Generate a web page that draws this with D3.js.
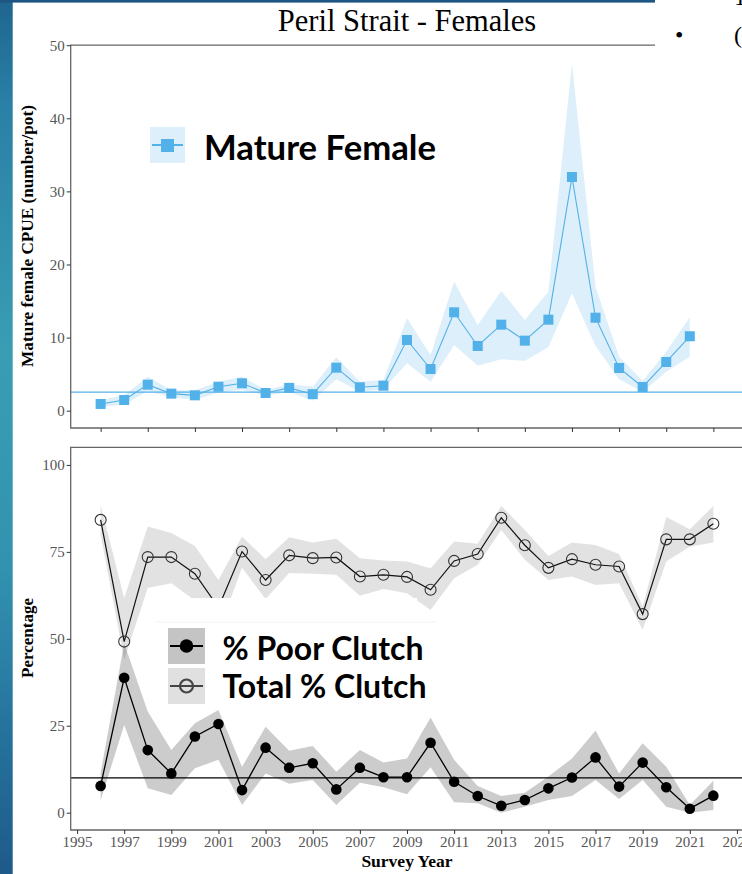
<!DOCTYPE html>
<html><head><meta charset="utf-8">
<script src="https://cdn.jsdelivr.net/npm/d3@7"></script>
<style>html,body{margin:0;padding:0;background:#fff;overflow:hidden}</style>
</head><body><svg id="c" width="742" height="874" xmlns="http://www.w3.org/2000/svg"></svg>
<script>
// ---------- data ----------
const yearsTop = [1996,1997,1998,1999,2000,2001,2002,2003,2004,2005,2006,2007,2008,2009,2010,2011,2012,2013,2014,2015,2016,2017,2018,2019,2020,2021];
const cpue   = [0.92,1.46,3.56,2.33,2.1,3.28,3.75,2.42,3.12,2.26,5.88,3.2,3.42,9.67,5.7,13.46,8.85,11.77,9.58,12.45,31.97,12.72,5.84,3.24,6.66,10.18];
const cpueHi = [1.46,2.1,4.65,2.8,2.8,3.97,4.65,2.8,3.65,3.28,7.3,3.97,4.2,12.64,7.6,17.65,11.72,16.37,12.4,16.28,47.5,16.96,7.39,4.1,8.07,12.78];
const cpueLo = [0.55,0.8,2.7,1.8,1.5,2.46,2.9,2.0,2.6,1.37,4.3,2.6,2.93,6.48,3.97,8.99,6.16,7.03,6.84,8.67,16.06,8.85,4.3,2.6,5.34,7.39];
const cpueRef = 2.55;

const yearsBot = [1996,1997,1998,1999,2000,2001,2002,2003,2004,2005,2006,2007,2008,2009,2010,2011,2012,2013,2014,2015,2016,2017,2018,2019,2020,2021,2022];
const totalClutch = [84.2,49.2,73.5,73.5,68.7,59,75.1,66.9,74.0,73.2,73.4,67.9,68.4,67.8,64.1,72.4,74.4,84.8,76.9,70.4,72.9,71.3,70.8,57.1,78.6,78.6,83.1];
const totalHi = [88.5,61.7,82.3,80.4,76.7,66.9,79.4,72.9,79.2,77.7,78.8,73.2,72.5,72.2,70.3,78.0,77.3,88.2,81.3,73.8,77.7,77.0,74.4,59.3,85.0,81.5,88.2];
const totalLo = [80,44,64.6,66.0,61,52,70.4,61.4,68.9,68.7,68.4,62.4,64.3,63.1,58.3,67.4,71.3,81.3,72.7,66.9,67.9,65.5,66.0,52.6,72.2,76.5,77.7];
const poorClutch = [7.7,38.8,18.0,11.3,21.9,25.5,6.5,18.7,12.9,14.2,6.7,12.9,10.2,10.2,20.1,8.9,4.8,2.0,3.65,7.0,10.1,15.9,7.5,14.4,7.3,1.15,4.9];
const poorHi = [11.5,48.7,29.1,18.0,25.7,29.5,13.2,24.7,17.8,19.2,11.8,18.0,14.4,15.6,27.4,15.2,7.7,4.8,5.75,10.4,15.6,23.6,11.3,20.0,13.2,2.2,9.2];
const poorLo = [3.6,25.2,7.0,5.1,12.8,15.2,2.2,11.3,8.3,9.4,2.2,8.6,7.3,5.3,13.1,3.0,2.7,0,1.7,3.65,4.8,9.4,3.9,9.4,1.7,0,0.8];
const poorRef = 10;

const topTicksY = [0,10,20,30,40,50];
const topTicksX = [1996,1998,2000,2002,2004,2006,2008,2010,2012,2014,2016,2018,2020,2022];
const botTicksY = [0,25,50,75,100];
const botTicksX = [1995,1997,1999,2001,2003,2005,2007,2009,2011,2013,2015,2017,2019,2021,2023];

const titleText = "Peril Strait - Females";
const yTitleTop = "Mature female CPUE (number/pot)";
const yTitleBot = "Percentage";
const xTitle = "Survey Year";
const legTop = ["Mature Female"];
const legBot = ["% Poor Clutch", "Total % Clutch"];

// ---------- setup ----------
const svg = d3.select("#c");
const BLUE = "#52b1e8";
const serif = "'Liberation Serif','Times New Roman',serif";
const sans = "Lato,'Open Sans',sans-serif";

const x = d3.scaleLinear().domain([1994.73, 2024]).range([70.7, 760.5]);
const yT = d3.scaleLinear().domain([-2.37, 50]).range([428, 45.2]);
const yB = d3.scaleLinear().domain([-4.98, 105.07]).range([830, 447.3]);

svg.append("rect").attr("width",742).attr("height",874).attr("fill","#fff");

// ---------- top panel ----------
const gT = svg.append("g");
const topData = yearsTop.map((yr,i)=>({yr, v:cpue[i], hi:cpueHi[i], lo:cpueLo[i]}));
gT.append("path").datum(topData)
  .attr("d", d3.area().x(d=>x(d.yr)).y0(d=>yT(d.lo)).y1(d=>yT(d.hi)))
  .attr("fill", BLUE).attr("fill-opacity", 0.2);
gT.append("line").attr("x1",x.range()[0]).attr("x2",x.range()[1])
  .attr("y1",yT(cpueRef)).attr("y2",yT(cpueRef)).attr("stroke",BLUE).attr("stroke-width",1.3);
gT.append("path").datum(topData)
  .attr("d", d3.line().x(d=>x(d.yr)).y(d=>yT(d.v)))
  .attr("fill","none").attr("stroke",BLUE).attr("stroke-width",1.1);
gT.selectAll("rect.sq").data(topData).join("rect").attr("class","sq")
  .attr("x",d=>x(d.yr)-5).attr("y",d=>yT(d.v)-5).attr("width",10).attr("height",10)
  .attr("fill",BLUE);

const frameCol = "#666";
gT.append("path").attr("d",`M${x.range()[1]},${yT.range()[1]}H${x.range()[0]}V${yT.range()[0]}H${x.range()[1]}`)
  .attr("fill","none").attr("stroke",frameCol).attr("stroke-width",1.3);

function styleAxis(g){
  g.select(".domain").remove();
  g.selectAll(".tick line").attr("stroke","#333").attr("stroke-width",1);
  g.selectAll(".tick text").attr("fill","#555").attr("font-family",serif).attr("font-size",15);
}
gT.append("g").attr("transform",`translate(${x.range()[0]},0)`)
  .call(d3.axisLeft(yT).tickValues(topTicksY).tickSize(4).tickPadding(2)).call(styleAxis);
gT.append("g").attr("transform",`translate(0,${yT.range()[0]})`)
  .call(d3.axisBottom(x).tickValues(topTicksX).tickSize(4).tickFormat("")).call(styleAxis);

// ---------- bottom panel ----------
const gB = svg.append("g");
const botData = yearsBot.map((yr,i)=>({yr, t:totalClutch[i], th:totalHi[i], tl:totalLo[i], p:poorClutch[i], ph:poorHi[i], pl:poorLo[i]}));
gB.append("path").datum(botData)
  .attr("d", d3.area().x(d=>x(d.yr)).y0(d=>yB(d.tl)).y1(d=>yB(d.th)))
  .attr("fill","#000").attr("fill-opacity",0.115);
gB.append("path").datum(botData)
  .attr("d", d3.area().x(d=>x(d.yr)).y0(d=>yB(d.pl)).y1(d=>yB(d.ph)))
  .attr("fill","#000").attr("fill-opacity",0.2);
gB.append("line").attr("x1",x.range()[0]).attr("x2",x.range()[1])
  .attr("y1",yB(poorRef)).attr("y2",yB(poorRef)).attr("stroke","#000").attr("stroke-width",1.3);
gB.append("path").datum(botData)
  .attr("d", d3.line().x(d=>x(d.yr)).y(d=>yB(d.t)))
  .attr("fill","none").attr("stroke","#111").attr("stroke-width",1.2);
gB.append("path").datum(botData)
  .attr("d", d3.line().x(d=>x(d.yr)).y(d=>yB(d.p)))
  .attr("fill","none").attr("stroke","#000").attr("stroke-width",1.3);
gB.selectAll("circle.tot").data(botData).join("circle").attr("class","tot")
  .attr("cx",d=>x(d.yr)).attr("cy",d=>yB(d.t)).attr("r",5.5)
  .attr("fill","none").attr("stroke","#333").attr("stroke-width",1.1);
gB.selectAll("circle.poor").data(botData).join("circle").attr("class","poor")
  .attr("cx",d=>x(d.yr)).attr("cy",d=>yB(d.p)).attr("r",5.3).attr("fill","#000");

gB.append("path").attr("d",`M${x.range()[1]},${yB.range()[1]}H${x.range()[0]}V${yB.range()[0]}H${x.range()[1]}`)
  .attr("fill","none").attr("stroke",frameCol).attr("stroke-width",1.3);
gB.append("g").attr("transform",`translate(${x.range()[0]},0)`)
  .call(d3.axisLeft(yB).tickValues(botTicksY).tickSize(4).tickPadding(2)).call(styleAxis);
gB.append("g").attr("transform",`translate(0,${yB.range()[0]})`)
  .call(d3.axisBottom(x).tickValues(botTicksX).tickSize(4).tickPadding(2).tickFormat(d3.format("d"))).call(styleAxis);

// ---------- legends ----------
svg.append("rect").attr("x",155).attr("y",598).attr("width",262).attr("height",112).attr("fill","#fff");
svg.append("line").attr("x1",155).attr("x2",435).attr("y1",622).attr("y2",622).attr("stroke","#f2f2f2");
const lk = svg.append("g");
lk.append("rect").attr("x",168).attr("y",628).attr("width",37).attr("height",36).attr("fill","#c4c4c4");
lk.append("line").attr("x1",170).attr("x2",203).attr("y1",646).attr("y2",646).attr("stroke","#000").attr("stroke-width",2.2);
lk.append("circle").attr("cx",186.5).attr("cy",646).attr("r",6.8).attr("fill","#000");
lk.append("rect").attr("x",168).attr("y",668).attr("width",37).attr("height",36).attr("fill","#e0e0e0");
lk.append("line").attr("x1",170).attr("x2",203).attr("y1",686).attr("y2",686).attr("stroke","#444").attr("stroke-width",2.2);
lk.append("circle").attr("cx",186.5).attr("cy",686).attr("r",6.5).attr("fill","none").attr("stroke","#444").attr("stroke-width",2.2);
lk.selectAll("text").data(legBot).join("text")
  .attr("x",222.5).attr("y",(d,i)=>[660,697.5][i])
  .attr("font-family",sans).attr("font-weight",700).attr("font-size",32)
  .attr("textLength",(d,i)=>[201,204][i]).attr("lengthAdjust","spacingAndGlyphs")
  .attr("fill","#000").text(d=>d);

const lt = svg.append("g");
lt.append("rect").attr("x",150).attr("y",127).attr("width",35).attr("height",36).attr("fill",BLUE).attr("fill-opacity",0.2);
lt.append("line").attr("x1",152).attr("x2",183).attr("y1",145).attr("y2",145).attr("stroke",BLUE).attr("stroke-width",2);
lt.append("rect").attr("x",161).attr("y",139).attr("width",13).attr("height",13).attr("fill",BLUE);
lt.selectAll("text").data(legTop).join("text")
  .attr("x",204).attr("y",159.5)
  .attr("font-family",sans).attr("font-weight",700).attr("font-size",35)
  .attr("textLength",232).attr("lengthAdjust","spacingAndGlyphs")
  .attr("fill","#000").text(d=>d);

// ---------- titles ----------
svg.append("text").attr("x",407).attr("y",31).attr("text-anchor","middle")
  .attr("font-family",serif).attr("font-size",30.5).attr("fill","#000").text(titleText);
svg.append("text").attr("transform","translate(33,236) rotate(-90)").attr("text-anchor","middle")
  .attr("font-family",serif).attr("font-weight",700).attr("font-size",17.2).attr("fill","#000").text(yTitleTop);
svg.append("text").attr("transform","translate(33,638) rotate(-90)").attr("text-anchor","middle")
  .attr("font-family",serif).attr("font-weight",700).attr("font-size",17).attr("fill","#000").text(yTitleBot);
svg.append("text").attr("x",407).attr("y",867).attr("text-anchor","middle")
  .attr("font-family",serif).attr("font-weight",700).attr("font-size",17.5).attr("fill","#000").text(xTitle);

// ---------- slide decoration ----------
const defs = svg.append("defs");
const lg = defs.append("linearGradient").attr("id","strip").attr("x1",0).attr("y1",0).attr("x2",0).attr("y2",1);
[[0,"#1f6590"],[0.12,"#2a80a6"],[0.4,"#3a9db4"],[0.65,"#3292b0"],[0.85,"#25709c"],[1,"#1e5a8a"]]
  .forEach(([o,c])=>lg.append("stop").attr("offset",o).attr("stop-color",c));
svg.append("rect").attr("x",0).attr("y",0).attr("width",12.7).attr("height",874).attr("fill","url(#strip)");
svg.append("rect").attr("x",0).attr("y",0).attr("width",655).attr("height",2.6).attr("fill","#1d5584");
svg.append("rect").attr("x",655).attr("y",0).attr("width",87).attr("height",58).attr("fill","#fff");
const tb = svg.append("g").attr("font-family",serif).attr("font-size",24).attr("fill","#000");
tb.append("text").attr("x",675).attr("y",5).text("\u2022");
tb.append("text").attr("x",734).attr("y",5).text("1");
tb.append("text").attr("x",675).attr("y",43).text("\u2022");
tb.append("text").attr("x",734).attr("y",43).text("(");
</script></body></html>
